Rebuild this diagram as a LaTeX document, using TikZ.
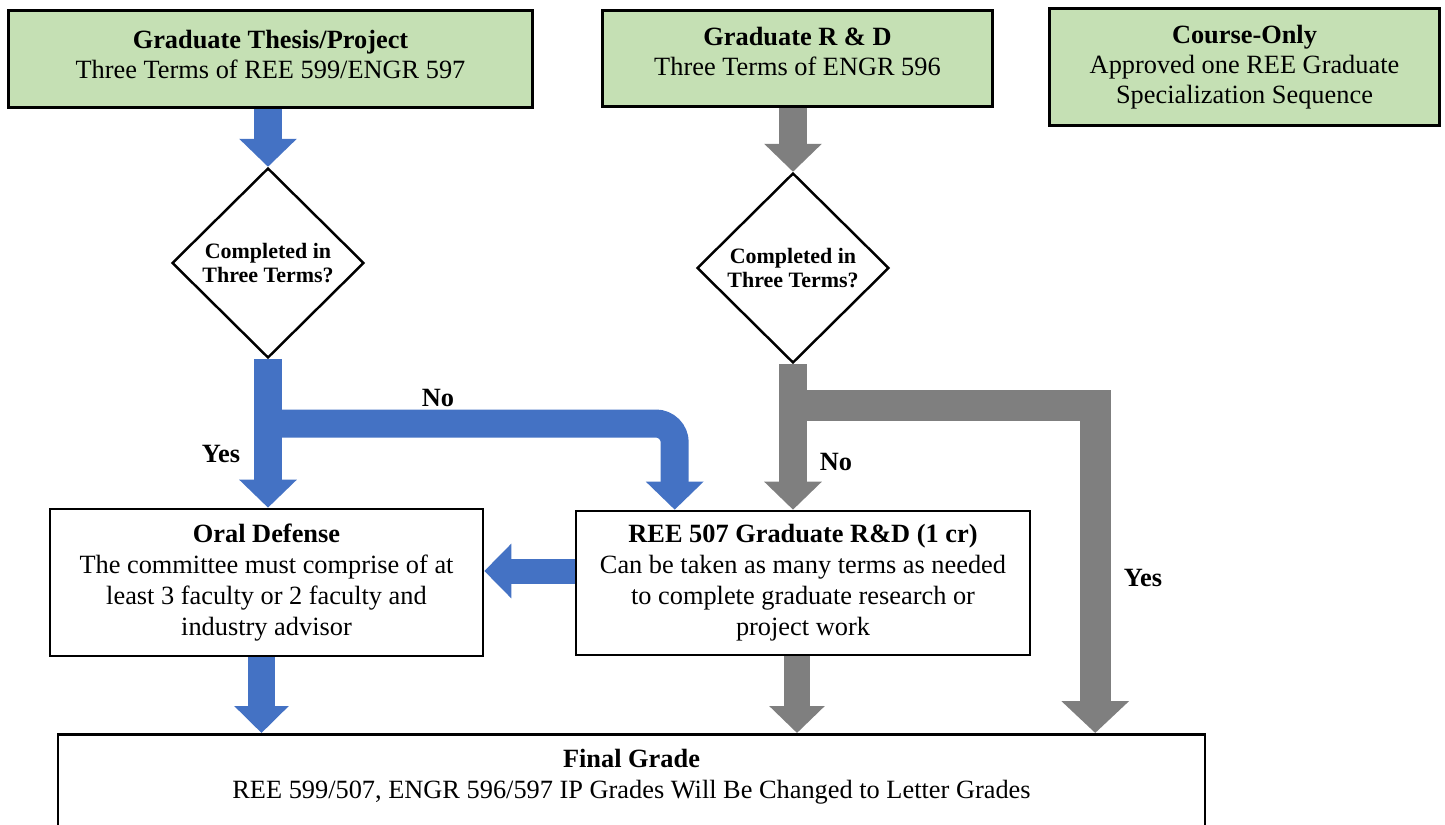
\documentclass[tikz,border=0pt]{standalone}
\usepackage{fontspec}
\setmainfont{Liberation Serif}
\usepackage{xcolor}
\usetikzlibrary{shapes, arrows.meta, positioning, calc}
\definecolor{boxgreen}{HTML}{C5E0B4}
\definecolor{arrowblue}{HTML}{4472C4}
\definecolor{arrowgray}{HTML}{7F7F7F}
\tikzset{
    track/.style={rectangle, draw, line width=1.7pt, fill=boxgreen, align=center, font=\fontsize{15}{17}\selectfont},
    stepbox/.style={rectangle, draw, line width=1.5pt, fill=white, align=center, font=\fontsize{15}{17.6}\selectfont},
    check/.style={diamond, draw, line width=1.4pt, fill=white, align=center, inner sep=0pt, minimum width=3.84cm, minimum height=3.8cm, font=\bfseries\fontsize{12.5}{13.5}\selectfont},
    bluearrow/.style={draw=arrowblue, line width=0.56cm, -{Triangle[length=0.56cm, width=1.12cm]}},
    grayarrow/.style={draw=arrowgray, line width=0.56cm, -{Triangle[length=0.56cm, width=1.12cm]}},
    answer/.style={font=\bfseries\fontsize{15}{17}\selectfont}
}

\begin{document}
\begin{tikzpicture}[x=0.02cm, y=-0.02cm]
    \useasboundingbox (0,0) rectangle (1445,825);

    % the three tracks
    \node[track, minimum width=10.5cm, minimum height=1.96cm, text depth=0.2cm] (thesis) at (270.5,59) {\textbf{Graduate Thesis/Project}\\Three Terms of REE 599/ENGR 597};
    \node[track, minimum width=7.82cm, minimum height=1.94cm, text depth=0.28cm] (rnd) at (797.5,58.5) {\textbf{Graduate R \& D}\\Three Terms of ENGR 596};
    \node[track, minimum width=7.82cm, minimum height=2.36cm] (course) at (1244.5,67) {\textbf{Course-Only}\\Approved one REE Graduate\\Specialization Sequence};

    % decisions
    \node[check] (d1) at (268,263) {Completed in\\Three Terms?};
    \node[check] (d2) at (793,268) {Completed in\\Three Terms?};

    % steps
    \node[stepbox, minimum width=8.66cm, minimum height=2.94cm] (oral) at (266.5,582.5) {\textbf{Oral Defense}\\The committee must comprise of at\\least 3 faculty or 2 faculty and\\industry advisor};
    \node[stepbox, minimum width=9.08cm, minimum height=2.88cm] (ree) at (803,583) {\textbf{REE 507 Graduate R\&D (1 cr)}\\Can be taken as many terms as needed\\to complete graduate research or\\project work};
    \node[stepbox, anchor=north, minimum width=22.94cm, inner ysep=0.3cm, text depth=1.6cm] (final) at (631.5,733) {\textbf{Final Grade}\\REE 599/507, ENGR 596/597 IP Grades Will Be Changed to Letter Grades};

    \coordinate (nobranch) at (269,423.5);
    \coordinate (yesbranch) at (793,405);

    % thesis track
    \draw[bluearrow] (thesis.south -| d1.north) -- (d1.north);
    \draw[bluearrow] (d1.south) -- (d1.south |- oral.north);
    \draw[bluearrow, rounded corners=0.38cm] (nobranch) -| ([xshift=2cm]ree.north west);
    \draw[bluearrow, line width=0.5cm, -{Triangle[length=0.54cm, width=1.06cm]}] ([yshift=0.24cm]ree.west) -- ([yshift=0.24cm]ree.west -| oral.east);
    \draw[bluearrow, line width=0.54cm, -{Triangle[length=0.54cm, width=1.06cm]}] ([xshift=-0.1cm]oral.south) -- ([xshift=-0.1cm]oral.south |- final.north);

    % R & D track
    \draw[grayarrow] (d2.north |- rnd.south) -- (d2.north);
    \draw[grayarrow] (d2.south) -- (d2.south |- ree.north);
    \draw[grayarrow, line width=0.62cm, miter limit=4, -{Triangle[length=0.64cm, width=1.32cm]}] (yesbranch) -| ([xshift=-2.22cm]final.north east);
    \draw[grayarrow, line width=0.52cm, -{Triangle[length=0.54cm, width=1.08cm]}] ([xshift=-0.12cm]ree.south) -- ([xshift=-0.12cm]ree.south |- final.north);

    % answers
    \node[answer] (no1) at (438,398) {No};
    \node[answer] (yes1) at (221,454) {Yes};
    \node[answer] (no2) at (836,462) {No};
    \node[answer] (yes2) at (1143,578) {Yes};
\end{tikzpicture}
\end{document}
